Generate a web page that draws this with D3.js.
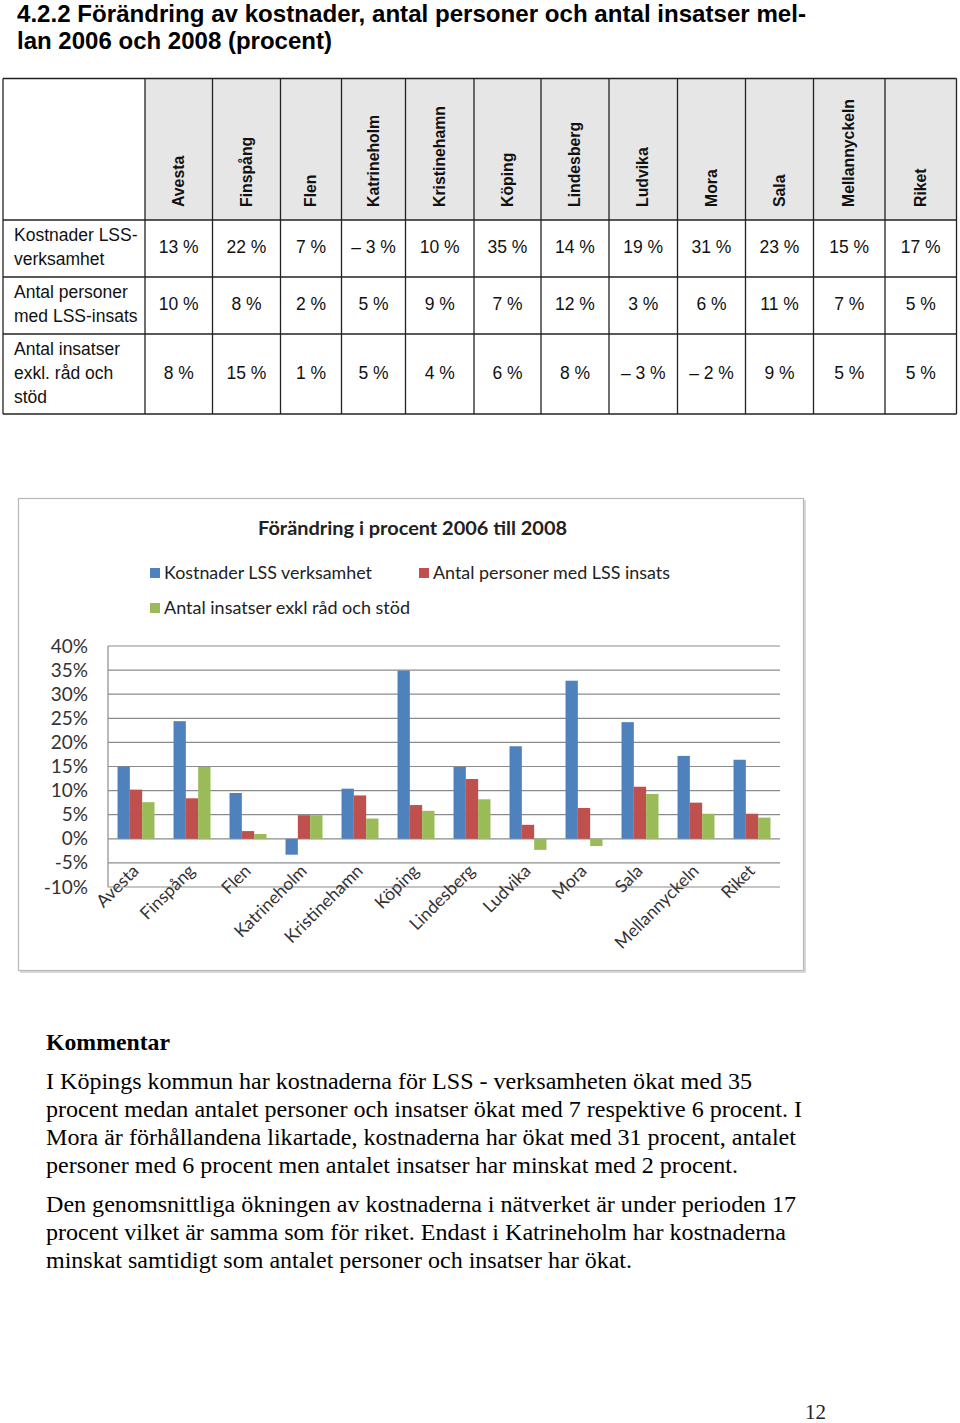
<!DOCTYPE html>
<html><head><meta charset="utf-8">
<script src="https://cdn.jsdelivr.net/npm/d3@7"></script>
<style>html,body{margin:0;padding:0;background:#fff;}svg{display:block;}</style>
</head><body>
<svg id="page" width="960" height="1423"></svg>
<script>
// ---- DATA ----
const categories = ["Avesta","Finspång","Flen","Katrineholm","Kristinehamn","Köping","Lindesberg","Ludvika","Mora","Sala","Mellannyckeln","Riket"];
const rowLabels = [["Kostnader LSS-","verksamhet"],["Antal personer","med LSS-insats"],["Antal insatser","exkl. råd och","stöd"]];
const tableKostnader = ["13 %","22 %","7 %","– 3 %","10 %","35 %","14 %","19 %","31 %","23 %","15 %","17 %"];
const tablePersoner  = ["10 %","8 %","2 %","5 %","9 %","7 %","12 %","3 %","6 %","11 %","7 %","5 %"];
const tableInsatser  = ["8 %","15 %","1 %","5 %","4 %","6 %","8 %","– 3 %","– 2 %","9 %","5 %","5 %"];
const seriesNames = ["Kostnader LSS verksamhet","Antal personer med LSS insats","Antal insatser exkl råd och stöd"];
const chartKostnader = [15, 24.4, 9.5, -3.3, 10.4, 34.9, 14.9, 19.2, 32.8, 24.2, 17.2, 16.4];
const chartPersoner  = [10.2, 8.4, 1.6, 4.9, 9.0, 7.0, 12.4, 2.9, 6.4, 10.8, 7.5, 5.2];
const chartInsatser  = [7.6, 14.9, 1.0, 4.9, 4.2, 5.8, 8.2, -2.3, -1.5, 9.3, 5.2, 4.4];
const yTicks = [-10,-5,0,5,10,15,20,25,30,35,40];
const seriesColors = ["#4F81BD","#C0504D","#9BBB59"];

const svg = d3.select("#page");

// ---- HEADING ----
const hFont = "'Liberation Sans Narrow','Arial Narrow','Liberation Sans',sans-serif";
svg.append("text").attr("x",17).attr("y",22).attr("font-family",hFont).attr("font-weight","bold")
  .attr("font-size",24).attr("textLength",789).attr("lengthAdjust","spacingAndGlyphs")
  .text("4.2.2 Förändring av kostnader, antal personer och antal insatser mel-");
svg.append("text").attr("x",17).attr("y",49).attr("font-family",hFont).attr("font-weight","bold")
  .attr("font-size",24).attr("textLength",315).attr("lengthAdjust","spacingAndGlyphs")
  .text("lan 2006 och 2008 (procent)");

// ---- TABLE ----
const tFont = "'Liberation Sans',Arial,sans-serif";
const colEdges = [3,145,212.5,280.5,341.5,405.5,474,541,609,677.5,745.5,813.5,885,956.5];
const rowEdges = [78.5,220,277,334,414];
const tbl = svg.append("g");
tbl.selectAll("rect.hdr").data(categories).join("rect")
  .attr("x",(d,i)=>colEdges[i+1]).attr("y",rowEdges[0])
  .attr("width",(d,i)=>colEdges[i+2]-colEdges[i+1]).attr("height",rowEdges[1]-rowEdges[0])
  .attr("fill","#e6e6e6");
colEdges.forEach(x=>tbl.append("line").attr("x1",x).attr("x2",x).attr("y1",rowEdges[0]).attr("y2",rowEdges[4]).attr("stroke","#222").attr("stroke-width",1.3));
rowEdges.forEach(y=>tbl.append("line").attr("x1",colEdges[0]).attr("x2",colEdges[13]).attr("y1",y).attr("y2",y).attr("stroke","#222").attr("stroke-width",1.3));
tbl.selectAll("text.hdr").data(categories).join("text")
  .attr("transform",(d,i)=>`translate(${(colEdges[i+1]+colEdges[i+2])/2+5},207) rotate(-90)`)
  .attr("font-family",tFont).attr("font-weight","bold").attr("font-size",15.8).attr("fill","#111")
  .text(d=>d);
const rowLabelY = [[241,265],[298,322],[355,379,403]];
rowLabels.forEach((lines,r)=>lines.forEach((l,k)=>{
  tbl.append("text").attr("x",14).attr("y",rowLabelY[r][k]).attr("font-family",tFont).attr("font-size",17.5).attr("fill","#111").text(l);
}));
const valueRows = [tableKostnader,tablePersoner,tableInsatser];
const valueY = [253,310,379];
valueRows.forEach((row,r)=>{
  tbl.selectAll(null).data(row).join("text")
    .attr("x",(d,i)=>(colEdges[i+1]+colEdges[i+2])/2).attr("y",valueY[r])
    .attr("text-anchor","middle").attr("font-family",tFont).attr("font-size",17.5).attr("fill","#111")
    .text(d=>d);
});

// ---- CHART ----
const cFont = "Lato,'Open Sans',sans-serif";
const chart = svg.append("g");
chart.append("rect").attr("x",20).attr("y",500).attr("width",786).attr("height",473).attr("fill","#d9d9d9");
chart.append("rect").attr("x",18.5).attr("y",498.5).attr("width",785).attr("height",472).attr("fill","#fff").attr("stroke","#b8b8b8").attr("stroke-width",1.2);

chart.append("text").attr("x",258).attr("y",535).attr("font-family",cFont)
  .attr("font-weight","bold").attr("font-size",18.5).attr("fill","#222")
  .attr("textLength",309).attr("lengthAdjust","spacingAndGlyphs").text("Förändring i procent 2006 till 2008");

const legendPos = [[150,568],[419,568],[150,603]];
const legendLen = [208,237,246];
seriesNames.forEach((s,i)=>{
  chart.append("rect").attr("x",legendPos[i][0]).attr("y",legendPos[i][1]).attr("width",10).attr("height",10).attr("fill",seriesColors[i]);
  chart.append("text").attr("x",legendPos[i][0]+14).attr("y",legendPos[i][1]+11).attr("font-family",cFont)
    .attr("font-size",17).attr("fill","#222").attr("textLength",legendLen[i]).attr("lengthAdjust","spacingAndGlyphs").text(s);
});

const y = d3.scaleLinear().domain([-10,40]).range([887,646]);
const x0 = d3.scaleBand().domain(categories).range([108,780]).paddingInner(0.34).paddingOuter(0.17);
const x1 = d3.scaleBand().domain([0,1,2]).range([0,x0.bandwidth()]);

chart.selectAll("line.grid").data(yTicks).join("line")
  .attr("x1",108).attr("x2",780).attr("y1",d=>y(d)).attr("y2",d=>y(d))
  .attr("stroke","#8c8c8c").attr("stroke-width",1.2);
chart.append("line").attr("x1",108).attr("x2",108).attr("y1",y(40)).attr("y2",y(-10)).attr("stroke","#8c8c8c").attr("stroke-width",1.2);

const yAxis = d3.axisLeft(y).tickValues(yTicks).tickSize(0).tickPadding(20).tickFormat(d=>d+"%");
const ya = chart.append("g").attr("transform","translate(108,0)").call(yAxis);
ya.select(".domain").remove();
ya.selectAll("text").attr("font-family",cFont).attr("font-size",19).attr("fill","#333");

const seriesData = [chartKostnader,chartPersoner,chartInsatser];
seriesData.forEach((vals,s)=>{
  chart.selectAll(null).data(vals).join("rect")
    .attr("x",(d,i)=>x0(categories[i])+x1(s))
    .attr("width",x1.bandwidth())
    .attr("y",d=>y(Math.max(0,d)))
    .attr("height",d=>Math.abs(y(d)-y(0)))
    .attr("fill",seriesColors[s]);
});

chart.selectAll("text.xl").data(categories).join("text")
  .attr("transform",d=>`translate(${x0(d)+x0.bandwidth()/2+4},872) rotate(-45)`)
  .attr("text-anchor","end").attr("font-family",cFont).attr("font-size",17.5).attr("fill","#333")
  .text(d=>d);

// ---- COMMENTARY ----
const sFont = "'Liberation Serif','Times New Roman',serif";
svg.append("text").attr("x",46).attr("y",1050).attr("font-family",sFont).attr("font-weight","bold").attr("font-size",23)
  .attr("textLength",124).attr("lengthAdjust","spacingAndGlyphs").text("Kommentar");
const para1 = ["I Köpings kommun har kostnaderna för LSS - verksamheten ökat med 35",
 "procent medan antalet personer och insatser ökat med 7 respektive 6 procent. I",
 "Mora är förhållandena likartade, kostnaderna har ökat med 31 procent, antalet",
 "personer med 6 procent men antalet insatser har minskat med 2 procent."];
const para1Len = [706,756,750,692];
const para2 = ["Den genomsnittliga ökningen av kostnaderna i nätverket är under perioden 17",
 "procent vilket är samma som för riket. Endast i Katrineholm har kostnaderna",
 "minskat samtidigt som antalet personer och insatser har ökat."];
const para2Len = [750,740,586];
para1.forEach((l,i)=>svg.append("text").attr("x",46).attr("y",1089+i*28).attr("font-family",sFont).attr("font-size",23.5)
  .attr("textLength",para1Len[i]).attr("lengthAdjust","spacingAndGlyphs").text(l));
para2.forEach((l,i)=>svg.append("text").attr("x",46).attr("y",1212+i*28).attr("font-family",sFont).attr("font-size",23.5)
  .attr("textLength",para2Len[i]).attr("lengthAdjust","spacingAndGlyphs").text(l));
svg.append("text").attr("x",805).attr("y",1419).attr("font-family",sFont).attr("font-size",21).attr("fill","#222").text("12");
</script>
</body></html>
